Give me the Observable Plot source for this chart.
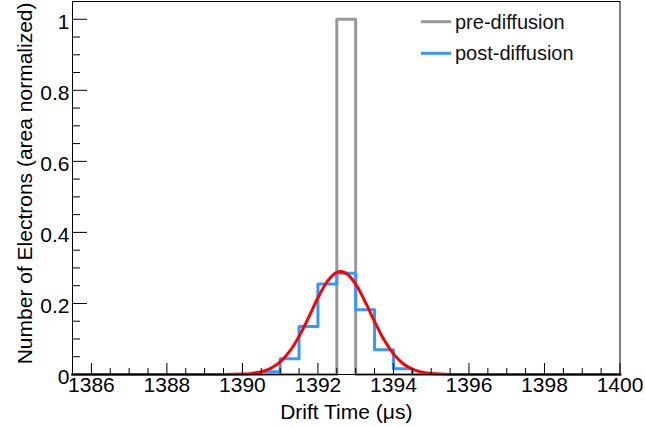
<!DOCTYPE html>
<html>
<head>
<meta charset="utf-8">
<script src="https://cdn.jsdelivr.net/npm/d3@7"></script>
<script src="https://cdn.jsdelivr.net/npm/@observablehq/plot@0.6"></script>
<style>
  body { margin: 0; background: #fff; }
  #wrap { position: relative; width: 645px; height: 427px; }
  #legend { position: absolute; left: 0; top: 0; }
</style>
</head>
<body>
<div id="wrap"></div>
<script>
// ---------- data ----------
const xDomain = [1385.5, 1400];
const yDomain = [0, 1.05];
const binWidth = 0.5;

const xMajorTicks = [1386, 1388, 1390, 1392, 1394, 1396, 1398, 1400];
const yMajorTicks = [0, 0.2, 0.4, 0.6, 0.8, 1];

// pre-diffusion histogram (non-empty bins; lower edges and contents)
const preBinLow = [1392.5];
const preValues = [1];

// post-diffusion histogram (non-empty bins; lower edges and contents)
const postBinLow = [1390.5, 1391, 1391.5, 1392, 1392.5, 1393, 1393.5, 1394];
const postValues = [0.008, 0.044, 0.135, 0.255, 0.285, 0.182, 0.070, 0.016];

// Gaussian fit curve
const fitX = [1385.5, 1389.5, 1390, 1390.25, 1390.5, 1390.75, 1391, 1391.25, 1391.5, 1391.75,
              1392, 1392.25, 1392.5, 1392.6, 1392.75, 1393, 1393.25, 1393.5, 1393.75,
              1394, 1394.25, 1394.5, 1394.75, 1395, 1395.5, 1396, 1400];
const fitY = [0, 0, 0.0011, 0.0031, 0.0077, 0.0174, 0.0354, 0.0649, 0.1073, 0.160,
              0.216, 0.262, 0.2876, 0.290, 0.2847, 0.2543, 0.205, 0.149, 0.0978,
              0.058, 0.031, 0.0149, 0.0065, 0.0026, 0.0003, 0, 0];

const legendItems = [
  {label: "pre-diffusion", color: "#999999"},
  {label: "post-diffusion", color: "#3399ff"}
];

// ---------- helpers ----------
function stepPoints(lows, vals) {
  const pts = [{x: xDomain[0], y: 0}];
  lows.forEach((lo, i) => pts.push({x: lo, y: vals[i]}));
  pts.push({x: lows[lows.length - 1] + binWidth, y: 0});
  pts.push({x: xDomain[1], y: 0});
  return pts;
}
const prePts = stepPoints(preBinLow, preValues);
const postPts = stepPoints(postBinLow, postValues);
const fitPts = fitX.map((x, i) => ({x, y: fitY[i]}));

const xMinorTicks = d3.range(xDomain[0], xDomain[1] + 1e-9, binWidth).filter(v => !xMajorTicks.includes(v));
const yMinorTicks = d3.range(0, 1.0001, 0.05).map(v => +v.toFixed(2)).filter(v => !yMajorTicks.includes(v));

// ---------- layout ----------
const W = 645, H = 427;
const mL = 72, mR = 25.5, mT = 1, mB = 53;
const plotW = W - mL - mR, plotH = H - mT - mB;
const font = "'Liberation Sans', Arial, Helvetica, sans-serif";

const plot = Plot.plot({
  width: W, height: H,
  marginLeft: mL, marginRight: mR, marginTop: mT, marginBottom: mB,
  x: {domain: xDomain},
  y: {domain: yDomain},
  style: {fontFamily: font, fontSize: "21px", background: "white", color: "black", overflow: "visible"},
  marks: [
    Plot.line(prePts, {x: "x", y: "y", curve: "step-after", stroke: "#999999", strokeWidth: 3}),
    Plot.line(postPts, {x: "x", y: "y", curve: "step-after", stroke: "#3399ff", strokeWidth: 3}),
    Plot.line(fitPts, {x: "x", y: "y", curve: "monotone-x", stroke: "#ff0000", strokeWidth: 3}),
    // ticks (inside)
    Plot.ruleX(xMajorTicks, {stroke: "black", strokeWidth: 1, insetTop: plotH - 11}),
    Plot.ruleX(xMinorTicks, {stroke: "black", strokeWidth: 1, insetTop: plotH - 6}),
    Plot.ruleY(yMajorTicks, {stroke: "black", strokeWidth: 1, insetRight: plotW - 15}),
    Plot.ruleY(yMinorTicks, {stroke: "black", strokeWidth: 1, insetRight: plotW - 8}),
    // tick labels
    Plot.axisX(xMajorTicks, {tickSize: 0, tickPadding: 3, tickFormat: d => String(d), fontSize: 21, label: null}),
    Plot.axisY(yMajorTicks, {tickSize: 0, tickPadding: 3, tickFormat: d => String(d), fontSize: 21, label: null, dy: 3}),
    // axis titles
    Plot.text(["Drift Time (\u03bcs)"], {frameAnchor: "bottom", lineAnchor: "bottom", dy: 44, fontSize: 21, textAnchor: "middle"}),
    Plot.text(["Number of Electrons (area normalized)"], {frameAnchor: "top-left", rotate: -90, textAnchor: "end", lineAnchor: "bottom", dx: 31.5 - mL, dy: 1, fontSize: 21}),
    Plot.frame({stroke: "black", strokeWidth: 1})
  ]
});

const wrap = document.getElementById("wrap");
wrap.appendChild(plot);

// legend overlay
const ns = "http://www.w3.org/2000/svg";
const lg = document.createElementNS(ns, "svg");
lg.setAttribute("id", "legend");
lg.setAttribute("width", W);
lg.setAttribute("height", 80);
legendItems.forEach((it, i) => {
  const cy = 21.7 + i * 31.6;
  const ln = document.createElementNS(ns, "line");
  ln.setAttribute("x1", 421); ln.setAttribute("x2", 451);
  ln.setAttribute("y1", cy); ln.setAttribute("y2", cy);
  ln.setAttribute("stroke", it.color); ln.setAttribute("stroke-width", 3);
  lg.appendChild(ln);
  const tx = document.createElementNS(ns, "text");
  tx.setAttribute("x", 455); tx.setAttribute("y", cy + 7);
  tx.setAttribute("font-family", font); tx.setAttribute("font-size", 20);
  tx.setAttribute("fill", "#111");
  tx.textContent = it.label;
  lg.appendChild(tx);
});
wrap.appendChild(lg);
</script>
</body>
</html>
